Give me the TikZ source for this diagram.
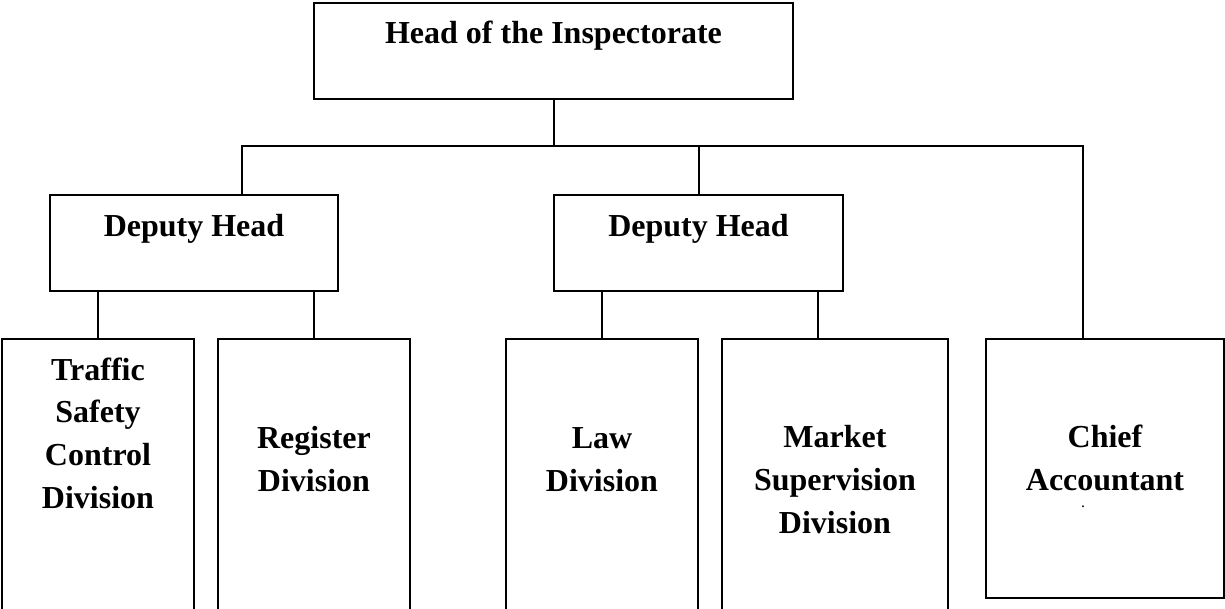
\documentclass[tikz,border=0pt]{standalone}
\usepackage{fontspec}
\setmainfont{Liberation Serif}

\begin{document}
\begin{tikzpicture}[x=0.5pt, y=-0.5pt, line width=1pt,
    office/.style={rectangle, draw, inner sep=0pt, anchor=north, align=center,
        font=\bfseries\fontsize{16}{21.3}\selectfont}]
        \clip (0,0) rectangle (1225,609);

        % Top level
        \node (head) at (553.5,2) [office, minimum width=239.5pt, text height=20.5pt, text depth=27.5pt] {Head of the Inspectorate};

        % Deputies
        \node (dep1) at (194,194) [office, minimum width=144pt, text height=20.5pt, text depth=27.5pt] {Deputy Head};
        \node (dep2) at (698.5,194) [office, minimum width=144.5pt, text height=20.5pt, text depth=27.5pt] {Deputy Head};

        % Divisions
        \node (traffic) at (98,338) [office, minimum width=96pt, text height=84.5pt, text depth=76.5pt] {Traffic\\Safety\\Control\\Division};
        \node (register) at (314,338) [office, minimum width=96pt, text height=76pt, text depth=85pt] {Register\\Division};
        \node (law) at (602,338) [office, minimum width=96pt, text height=76pt, text depth=85pt] {Law\\Division};
        \node (market) at (835,338) [office, minimum width=113pt, text height=97pt, text depth=64pt] {Market\\Supervision\\Division};
        \node (chief) at (1105,338) [office, minimum width=119pt, text height=75.5pt, text depth=54pt] {Chief\\Accountant};
        \node (dot) at (1083,507) [inner sep=0pt, font=\fontsize{8}{8}\selectfont] {.};

        % Connections
        \coordinate (bus) at (553.5,146);
        \draw (head.south) -- (bus);
        \draw ([xshift=24pt]dep1.north) |- (bus) -| ([xshift=-11pt]chief.north);
        \draw (dep2.north) -- (dep2.north |- bus);
        \draw (traffic.north) -- (traffic.north |- dep1.south);
        \draw (register.north) -- (register.north |- dep1.south);
        \draw (law.north) -- (law.north |- dep2.south);
        \draw ([xshift=-8.5pt]market.north) -- ([xshift=-8.5pt]market.north |- dep2.south);
\end{tikzpicture}
\end{document}
